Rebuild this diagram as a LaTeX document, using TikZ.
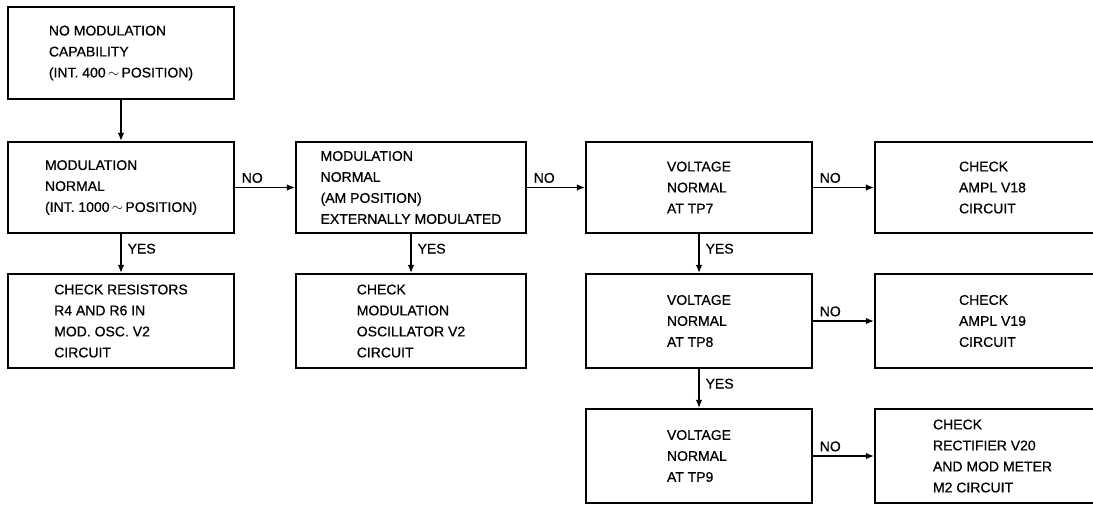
\documentclass[tikz,border=0pt]{standalone}
\usepackage{fontspec}
\setmainfont[FakeBold=0.6]{Liberation Sans}
\usetikzlibrary{arrows.meta}
\begin{document}
\begin{tikzpicture}[x=1pt,y=-1pt,
  box/.style={draw=black, line width=2.2pt, fill=white, align=left,
    font=\fontsize{14}{21}\selectfont, inner sep=0pt},
  c1/.style={minimum width=226pt}, c2/.style={minimum width=230pt},
  c3/.style={minimum width=226pt}, c4/.style={minimum width=235pt},
  r1/.style={minimum height=92pt}, r2/.style={minimum height=91pt},
  r3/.style={minimum height=94pt}, r4/.style={minimum height=94pt},
  arr/.style={line width=1.3pt, -{Latex[length=8pt,width=6.5pt]}},
  lbl/.style={font=\fontsize{14}{16}\selectfont, inner sep=0pt},
  nolbl/.style={lbl, pos=0, anchor=south west, xshift=6pt, yshift=4pt},
  yeslbl/.style={lbl, pos=0, anchor=north west, xshift=6pt, yshift=-9pt}]
\useasboundingbox (0,0) rectangle (1093,507);
\clip (0,0) rectangle (1093,507);
\newcommand{\acw}{\,{\Large$\sim$}\,}
% column 1
\node[box,c1,r1] (b1) at (121,53) {NO MODULATION\\CAPABILITY\\(INT. 400\acw POSITION)};
\node[box,c1,r2] (b2) at (121,187.5) {MODULATION\\NORMAL\\(INT. 1000\acw POSITION)};
\node[box,c1,r3] (b4) at (121,321) {CHECK RESISTORS\\R4 AND R6 IN\\MOD. OSC. V2\\CIRCUIT};
% column 2
\node[box,c2,r2] (b3) at (411,187.5) {MODULATION\\NORMAL\\(AM POSITION)\\EXTERNALLY MODULATED};
\node[box,c2,r3] (b5) at (411,321) {CHECK\\MODULATION\\OSCILLATOR V2\\CIRCUIT};
% column 3
\node[box,c3,r2] (t7) at (699,187.5) {VOLTAGE\\NORMAL\\AT TP7};
\node[box,c3,r3] (t8) at (699,321) {VOLTAGE\\NORMAL\\AT TP8};
\node[box,c3,r4] (t9) at (699,456) {VOLTAGE\\NORMAL\\AT TP9};
% column 4
\node[box,c4,r2] (v18) at (992.5,187.5) {CHECK\\AMPL V18\\CIRCUIT};
\node[box,c4,r3] (v19) at (992.5,321) {CHECK\\AMPL V19\\CIRCUIT};
\node[box,c4,r4] (v20) at (992.5,456) {CHECK\\RECTIFIER V20\\AND MOD METER\\M2 CIRCUIT};
% connectors
\draw[arr] (b1) -- (b2);
\draw[arr] (b2) -- (b4) node[yeslbl] {YES};
\draw[arr] (b2) -- (b3) node[nolbl] {NO};
\draw[arr] (b3) -- (b5) node[yeslbl] {YES};
\draw[arr] (b3) -- (t7) node[nolbl] {NO};
\draw[arr] (t7) -- (v18) node[nolbl] {NO};
\draw[arr] (t7) -- (t8) node[yeslbl] {YES};
\draw[arr] (t8) -- (v19) node[nolbl] {NO};
\draw[arr] (t8) -- (t9) node[yeslbl] {YES};
\draw[arr] (t9) -- (v20) node[nolbl] {NO};
\end{tikzpicture}
\end{document}
